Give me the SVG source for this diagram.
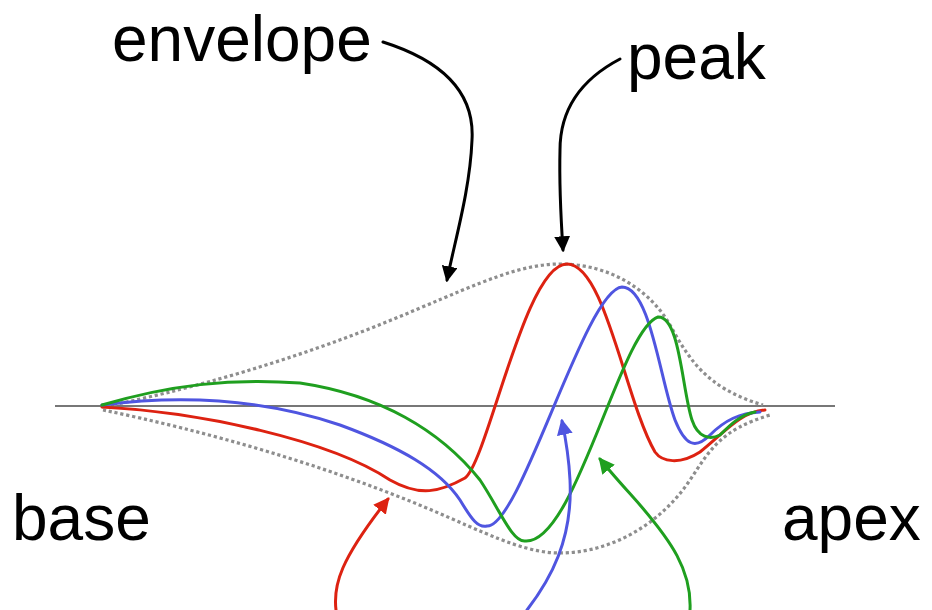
<svg xmlns="http://www.w3.org/2000/svg" width="932" height="610" viewBox="0 0 932 610">
<style>
.lbl{font-family:"Liberation Sans",Arial,sans-serif;font-size:64px;fill:#000}
.env{fill:none;stroke:#8e8e8e;stroke-width:3.2;stroke-dasharray:3.2 2.8}
.wave{fill:none;stroke-width:3;stroke-linecap:round;stroke-linejoin:round}
.conn{fill:none;stroke-width:3;stroke-linecap:round}
</style>
<defs>
<marker id="ahK" viewBox="0 0 14 14" refX="12" refY="7" markerWidth="16" markerHeight="16" orient="auto" markerUnits="userSpaceOnUse"><path d="M0,0 L14,7 L0,14 z" fill="#000"/></marker>
<marker id="ahR" viewBox="0 0 14 14" refX="12" refY="7" markerWidth="16" markerHeight="16" orient="auto" markerUnits="userSpaceOnUse"><path d="M0,0 L14,7 L0,14 z" fill="#dd2211"/></marker>
<marker id="ahB" viewBox="0 0 14 14" refX="12" refY="7" markerWidth="16" markerHeight="16" orient="auto" markerUnits="userSpaceOnUse"><path d="M0,0 L14,7 L0,14 z" fill="#4f55e0"/></marker>
<marker id="ahG" viewBox="0 0 14 14" refX="12" refY="7" markerWidth="16" markerHeight="16" orient="auto" markerUnits="userSpaceOnUse"><path d="M0,0 L14,7 L0,14 z" fill="#1f9f1f"/></marker>
</defs>
<rect width="932" height="610" fill="#fff"/>
<g id="axis"><line x1="55" y1="406" x2="835" y2="406" stroke="#777" stroke-width="2"/></g>
<g id="envelope-curve">
<path class="env" d="M102,407 C180,392 300,360 420,308 C480,283 520,264 560,264 C610,264 650,290 670,325 C688,357 705,388 763,405"/>
<path class="env" d="M103,410 C200,430 330,465 450,518 C500,540 530,553 560,553 C610,553 660,525 690,480 C710,450 720,430 770,415"/>
</g>
<g id="wave-red"><path class="wave" stroke="#dd2211" d="M102,407 C200,412 330,440 390,480 C420,497 440,492 465,478 C488,460 525,264 567,264 C605,264 625,400 655,452 C662,462 680,465 700,452 C725,432 740,412 765,410"/></g>
<g id="wave-blue"><path class="wave" stroke="#4f55e0" d="M102,405 C180,395 260,398 340,425 C400,447 440,470 460,500 C472,520 478,528 487,526 C520,528 585,290 622,287 C650,287 660,380 675,420 C685,445 695,450 710,435 C725,420 740,413 760,412"/></g>
<g id="wave-green"><path class="wave" stroke="#1f9f1f" d="M102,405 C170,385 230,378 300,383 C380,395 440,430 480,480 C500,510 512,542 525,541 C575,545 620,330 658,317 C680,316 682,390 692,420 C698,438 710,440 720,435 C730,425 740,415 755,412"/></g>
<g id="label-envelope"><text class="lbl" x="112" y="61">envelope</text></g>
<g id="label-peak"><text class="lbl" x="627" y="79">peak</text></g>
<g id="label-base"><text class="lbl" x="12" y="540">base</text></g>
<g id="label-apex"><text class="lbl" x="782" y="540">apex</text></g>
<g id="connectors">
<path class="conn" stroke="#000" marker-end="url(#ahK)" d="M383,42 C440,60 475,90 472,140 C470,190 455,240 447,280"/>
<path class="conn" stroke="#000" marker-end="url(#ahK)" d="M620,59 C580,80 560,110 560,150 C559,190 561,220 563,250"/>
<path class="conn" stroke="#dd2211" marker-end="url(#ahR)" d="M336,610 C333,585 340,560 388,499"/>
<path class="conn" stroke="#4f55e0" marker-end="url(#ahB)" d="M527,610 C550,580 573,540 570,480 C569,460 566,440 562,421"/>
<path class="conn" stroke="#1f9f1f" marker-end="url(#ahG)" d="M690,610 C692,570 670,540 640,505 C625,488 612,474 600,459"/>
</g>
</svg>
